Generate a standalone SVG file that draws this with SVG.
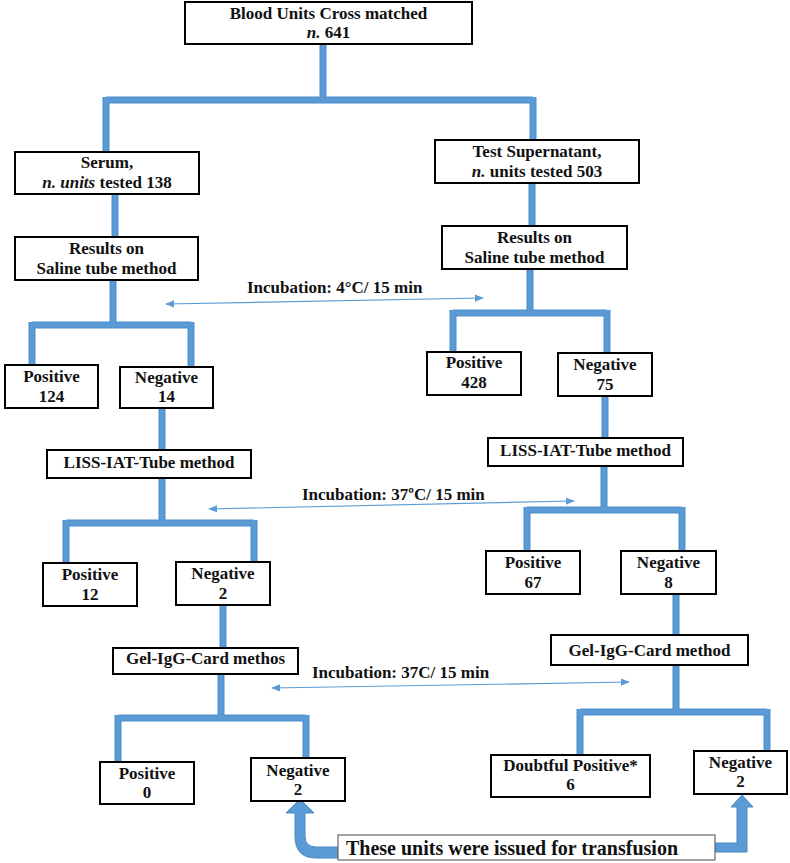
<svg xmlns="http://www.w3.org/2000/svg" width="790" height="863" viewBox="0 0 790 863">
<defs>
<style>
.box{fill:#fff;stroke:#000;stroke-width:2}
.t{font-family:"Liberation Serif","Times New Roman",serif;font-weight:bold;font-size:17px;fill:#111;text-anchor:middle}
.inc{font-family:"Liberation Serif","Times New Roman",serif;font-weight:bold;font-size:17px;fill:#111}
.big{font-family:"Liberation Serif","Times New Roman",serif;font-weight:bold;font-size:20px;fill:#111;text-anchor:middle}
.pipe{fill:none;stroke:#4f8fcb;stroke-width:7;stroke-linecap:butt;stroke-linejoin:miter}
.pipe2{fill:none;stroke:#5b9bd5;stroke-width:4.5;stroke-linecap:butt;stroke-linejoin:miter}
.thin{fill:none;stroke:#5b9bd5;stroke-width:1.2;marker-start:url(#ah);marker-end:url(#ah)}
.fat{fill:#5b9bd5;stroke:#4a87c2;stroke-width:1}
</style>
<marker id="ah" viewBox="0 0 10 10" refX="9" refY="5" markerWidth="9" markerHeight="9" orient="auto-start-reverse" markerUnits="userSpaceOnUse">
<path d="M0,1 L10,5 L0,9 Z" fill="#5b9bd5"/>
</marker>
</defs>
<rect width="790" height="863" fill="#fff"/>
<g id="connectors">
<g class="pipe">
<path d="M323,44 V100 M106,100 H533 M106,97 V152 M533,97 V140 M115,194 V237 M113,280 V325 M32,325 H191 M32,322 V365 M191,322 V367 M162,408 V450 M162,478 V523 M66,523 H254 M66,520 V563 M254,520 V562 M223,605 V648 M221,674 V718 M118,718 H306 M118,715 V762 M306,715 V758 M532,183 V226 M530,269 V313 M453,313 H607 M453,310 V352 M607,310 V353 M605,396 V438 M604,466 V510 M527,510 H682 M527,507 V551 M682,507 V551 M676,594 V635 M676,665 V712 M580,712 H767 M580,709 V755 M767,709 V751"/>
</g>
<g class="pipe2">
<path d="M323,44 V100 M106,100 H533 M106,97 V152 M533,97 V140 M115,194 V237 M113,280 V325 M32,325 H191 M32,322 V365 M191,322 V367 M162,408 V450 M162,478 V523 M66,523 H254 M66,520 V563 M254,520 V562 M223,605 V648 M221,674 V718 M118,718 H306 M118,715 V762 M306,715 V758 M532,183 V226 M530,269 V313 M453,313 H607 M453,310 V352 M607,310 V353 M605,396 V438 M604,466 V510 M527,510 H682 M527,507 V551 M682,507 V551 M676,594 V635 M676,665 V712 M580,712 H767 M580,709 V755 M767,709 V751"/>
</g>
<path class="thin" d="M166,304 L483,298"/>
<path class="thin" d="M209,509 L574,501"/>
<path class="thin" d="M272,688 L629,682"/>
<path class="fat" d="M300,799 L314,813 L305,813 L305,836 Q305,847 316,847 L338,847 L338,858 L316,858 Q295,858 295,836 L295,813 L286,813 Z"/>
<path class="fat" d="M715,843 L737,843 L737,807 L731,807 L742,795 L753,807 L747,807 L747,852 L715,852 Z"/>
</g>
<g id="n_top"><rect class="box" x="185" y="2" width="287" height="42"/>
<text class="t" x="328.5" y="19">Blood Units Cross matched</text>
<text class="t" x="328.5" y="38"><tspan font-style="italic">n.</tspan> 641</text></g>
<g id="n_serum"><rect class="box" x="15" y="152" width="184" height="42"/>
<text class="t" x="107" y="168">Serum,</text>
<text class="t" x="107" y="188"><tspan font-style="italic">n. units</tspan> tested 138</text></g>
<g id="n_super"><rect class="box" x="435" y="140" width="204" height="43"/>
<text class="t" x="537" y="157">Test Supernatant,</text>
<text class="t" x="537" y="177"><tspan font-style="italic">n.</tspan> units tested 503</text></g>
<g id="n_res_l"><rect class="box" x="15" y="237" width="183" height="43"/>
<text class="t" x="106.5" y="254">Results on</text>
<text class="t" x="106.5" y="274">Saline tube method</text></g>
<g id="n_res_r"><rect class="box" x="442" y="226" width="185" height="43"/>
<text class="t" x="534.5" y="243">Results on</text>
<text class="t" x="534.5" y="263">Saline tube method</text></g>
<g id="n_pos124"><rect class="box" x="5" y="365" width="93" height="43"/>
<text class="t" x="51.5" y="382">Positive</text>
<text class="t" x="51.5" y="402">124</text></g>
<g id="n_neg14"><rect class="box" x="120" y="367" width="93" height="41"/>
<text class="t" x="166.5" y="383">Negative</text>
<text class="t" x="166.5" y="402">14</text></g>
<g id="n_pos428"><rect class="box" x="427" y="352" width="94" height="43"/>
<text class="t" x="474" y="368">Positive</text>
<text class="t" x="474" y="388">428</text></g>
<g id="n_neg75"><rect class="box" x="558" y="353" width="94" height="43"/>
<text class="t" x="605" y="370">Negative</text>
<text class="t" x="605" y="390">75</text></g>
<g id="n_liss_l"><rect class="box" x="47" y="450" width="204" height="28"/>
<text class="t" x="149" y="468">LISS-IAT-Tube method</text></g>
<g id="n_liss_r"><rect class="box" x="488" y="438" width="195" height="28"/>
<text class="t" x="585.5" y="456">LISS-IAT-Tube method</text></g>
<g id="n_pos12"><rect class="box" x="43" y="563" width="94" height="43"/>
<text class="t" x="90" y="580">Positive</text>
<text class="t" x="90" y="600">12</text></g>
<g id="n_neg2a"><rect class="box" x="176" y="562" width="94" height="43"/>
<text class="t" x="223" y="579">Negative</text>
<text class="t" x="223" y="599">2</text></g>
<g id="n_pos67"><rect class="box" x="486" y="551" width="94" height="43"/>
<text class="t" x="533" y="568">Positive</text>
<text class="t" x="533" y="588">67</text></g>
<g id="n_neg8"><rect class="box" x="621" y="551" width="95" height="43"/>
<text class="t" x="668.5" y="568">Negative</text>
<text class="t" x="668.5" y="588">8</text></g>
<g id="n_gel_l"><rect class="box" x="113" y="648" width="185" height="26"/>
<text class="t" x="205.5" y="664">Gel-IgG-Card methos</text></g>
<g id="n_gel_r"><rect class="box" x="551" y="635" width="197" height="30"/>
<text class="t" x="649.5" y="656">Gel-IgG-Card method</text></g>
<g id="n_pos0"><rect class="box" x="100" y="762" width="94" height="42"/>
<text class="t" x="147" y="779">Positive</text>
<text class="t" x="147" y="798">0</text></g>
<g id="n_neg2b"><rect class="box" x="251" y="758" width="94" height="43"/>
<text class="t" x="298" y="776">Negative</text>
<text class="t" x="298" y="795">2</text></g>
<g id="n_doubt"><rect class="box" x="491" y="755" width="159" height="42"/>
<text class="t" x="570.5" y="771">Doubtful Positive*</text>
<text class="t" x="570.5" y="790">6</text></g>
<g id="n_neg2c"><rect class="box" x="694" y="751" width="93" height="43"/>
<text class="t" x="740.5" y="768">Negative</text>
<text class="t" x="740.5" y="787">2</text></g>
<g id="n_issued"><rect x="338" y="835" width="377" height="25" fill="#fff" stroke="#666" stroke-width="1.2"/>
<text class="big" x="512" y="855">These units were issued for transfusion</text></g>
<g id="labels">
<text class="inc" x="247" y="293">Incubation: 4°C/ 15 min</text>
<text class="inc" x="302" y="500">Incubation: 37ºC/ 15 min</text>
<text class="inc" x="312" y="678">Incubation: 37C/ 15 min</text>
</g>
</svg>
